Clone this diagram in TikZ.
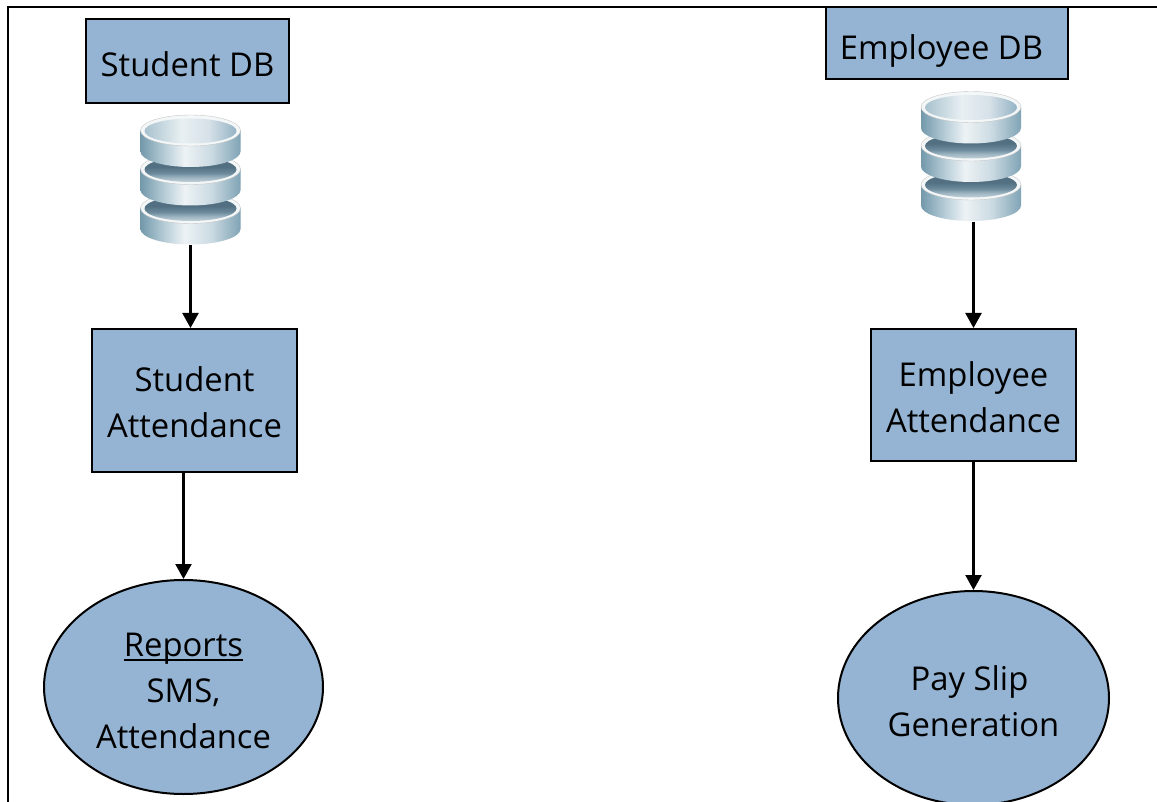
\documentclass[tikz,border=0pt]{standalone}
\usepackage{fontspec}
\setmainfont{Open Sans}
\usetikzlibrary{arrows.meta,shapes.geometric,calc}
\definecolor{boxblue}{HTML}{95B4D3}
\definecolor{rimw}{HTML}{F4F7F8}
\pgfdeclarehorizontalshading{discside}{100bp}{
  rgb(0bp)=(0.45,0.60,0.67);
  rgb(25bp)=(0.45,0.60,0.67);
  rgb(38bp)=(0.74,0.82,0.86);
  rgb(47bp)=(0.93,0.95,0.96);
  rgb(60bp)=(0.80,0.86,0.89);
  rgb(75bp)=(0.50,0.64,0.71);
  rgb(100bp)=(0.50,0.64,0.71)}
\pgfdeclareverticalshading{wellfade}{100bp}{
  rgb(0bp)=(0.76,0.82,0.85);
  rgb(25bp)=(0.76,0.82,0.85);
  rgb(34bp)=(0.62,0.71,0.76);
  rgb(43bp)=(0.42,0.54,0.61);
  rgb(55bp)=(0.32,0.44,0.51);
  rgb(100bp)=(0.32,0.44,0.51)}
\pgfdeclarehorizontalshading{welltop}{100bp}{
  rgb(0bp)=(0.66,0.76,0.81);
  rgb(25bp)=(0.66,0.76,0.81);
  rgb(45bp)=(0.91,0.94,0.95);
  rgb(60bp)=(0.84,0.88,0.91);
  rgb(75bp)=(0.58,0.70,0.77);
  rgb(100bp)=(0.58,0.70,0.77)}
\tikzset{
  x=1pt,y=-1pt,
  every node/.style={font=\fontsize{32.8}{46}\selectfont,text=black,inner sep=0pt},
  shapebox/.style={draw=black,line width=2pt,fill=boxblue,rectangle},
  shapeoval/.style={draw=black,line width=2pt,fill=boxblue,ellipse},
  iconbox/.style={rectangle,minimum width=101pt,minimum height=130pt},
  link/.style={draw=black,line width=2.2pt,-{Triangle[width=16pt,length=15pt]}},
  frameline/.style={draw=black,line width=2.2pt}
}
\newcommand{\lowtext}[2][5pt]{\raisebox{-#1}[\height][\depth]{\begin{tabular}{@{}c@{}}#2\end{tabular}}}
\newcommand{\ultext}[1]{\setbox0\hbox{#1}\rlap{\rule[-4.5pt]{\wd0}{1.7pt}}\box0 }
% one disc: x centre, y of top ellipse, side height, well shading
\newcommand{\dbdisc}[4]{%
  \path[shade,shading=discside] (#1-50,#2) -- (#1-50,#2+#3) arc[start angle=180,end angle=360,x radius=50,y radius=-15.5] -- (#1+50,#2) -- cycle;
  \path[fill=rimw,draw=gray!45,line width=.4pt] (#1,#2) ellipse[x radius=50,y radius=15.5];
  \path[shade,shading=#4] (#1,#2+.5) ellipse[x radius=46,y radius=12.5];
}
\newcommand{\dbstack}[2]{%
  \dbdisc{#1}{#2+93}{21}{wellfade}
  \dbdisc{#1}{#2+54}{21}{wellfade}
  \dbdisc{#1}{#2+15.5}{21}{welltop}
}
\begin{document}
\begin{tikzpicture}
\clip (0,0) rectangle (1157,802);
\path[fill=white] (0,0) rectangle (1157,802);
\draw[frameline] (1157,7) -- (8,7) -- (8,802);

\node[shapebox,minimum width=203pt,minimum height=84pt] (sdb) at (187.5,61) {\lowtext[6pt]{Student DB}};
\node[shapebox,minimum width=242pt,minimum height=72pt] (edb) at (947,43) {};
\node (edbt) at (941.5,45) {\lowtext[5.5pt]{Employee DB}};
\node[iconbox] (sicon) at (190.5,180) {};
\node[iconbox] (eicon) at (971,156.5) {};
\dbstack{190.5}{115}
\dbstack{971}{91.5}
\node[shapebox,minimum width=205pt,minimum height=143pt] (sa) at (194.5,400.5) {\lowtext{Student\\Attendance}};
\node[shapebox,minimum width=205pt,minimum height=132pt] (ea) at (973.5,395) {\lowtext{Employee\\Attendance}};
\node[shapeoval,minimum width=279pt,minimum height=214pt] (rep) at (183.5,687) {\lowtext[6pt]{\ultext{Reports}\\SMS,\\Attendance}};
\node[shapeoval,minimum width=271pt,minimum height=214pt] (pay) at (973.5,698) {\lowtext[6.5pt]{Pay Slip\rule{8pt}{0pt}\\Generation}};

\draw[link] (sicon.south) -- (sicon.south |- sa.north);
\draw[link] (rep.north |- sa.south) -- (rep.north);
\draw[link] (ea.north |- eicon.south) -- (ea.north);
\draw[link] (ea.south) -- (pay.north);
\end{tikzpicture}
\end{document}
